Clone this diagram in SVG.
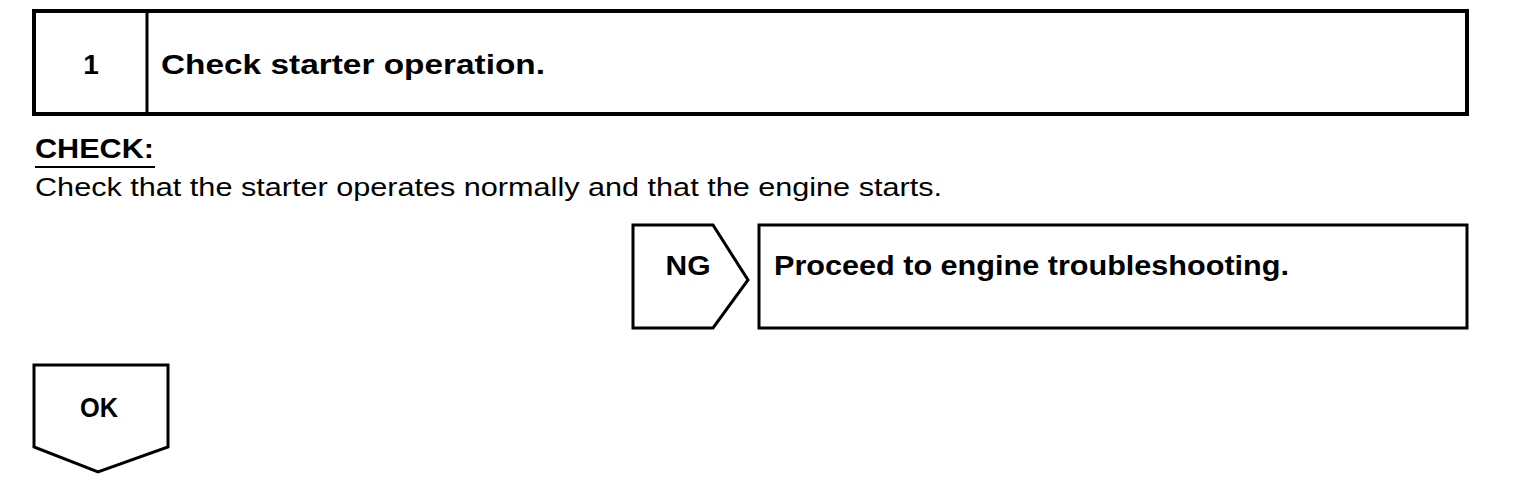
<svg xmlns="http://www.w3.org/2000/svg" width="1520" height="486" viewBox="0 0 1520 486">
<style>
.box{fill:#fff;stroke:#000;stroke-width:3;stroke-linejoin:miter}
.thick{stroke-width:4}
.b{font-family:"Liberation Sans",Arial,sans-serif;font-weight:bold;fill:#000}
.r{font-family:"Liberation Sans",Arial,sans-serif;fill:#000}
</style>
<rect width="1520" height="486" fill="#fff"/>
<g id="step1">
<rect class="box thick" x="34" y="11" width="1433" height="103"/>
<line x1="147" y1="11" x2="147" y2="114" stroke="#000" stroke-width="3"/>
<text class="b" x="91" y="74" font-size="28" text-anchor="middle">1</text>
<text class="b" x="161" y="74" font-size="28" textLength="384" lengthAdjust="spacingAndGlyphs">Check starter operation.</text>
</g>
<g id="check">
<text class="b" x="35" y="158" font-size="27" textLength="119" lengthAdjust="spacingAndGlyphs">CHECK:</text>
<line x1="35" y1="167" x2="155" y2="167" stroke="#000" stroke-width="2"/>
<text class="r" x="35" y="196" font-size="25" textLength="907" lengthAdjust="spacingAndGlyphs">Check that the starter operates normally and that the engine starts.</text>
</g>
<g id="ng">
<path class="box" d="M633,225 H713 L748,280 L713,328 H633 Z"/>
<text class="b" x="688" y="275" font-size="28" text-anchor="middle" textLength="45" lengthAdjust="spacingAndGlyphs">NG</text>
</g>
<g id="ng-result">
<rect class="box" x="759" y="225" width="708" height="103"/>
<text class="b" x="774" y="275" font-size="28" textLength="515" lengthAdjust="spacingAndGlyphs">Proceed to engine troubleshooting.</text>
</g>
<g id="ok">
<path class="box" d="M34,365 H168 V447 L98,472 L34,447 Z"/>
<text class="b" x="99" y="417" font-size="28" text-anchor="middle" textLength="38" lengthAdjust="spacingAndGlyphs">OK</text>
</g>
<g id="connectors"></g>
</svg>
